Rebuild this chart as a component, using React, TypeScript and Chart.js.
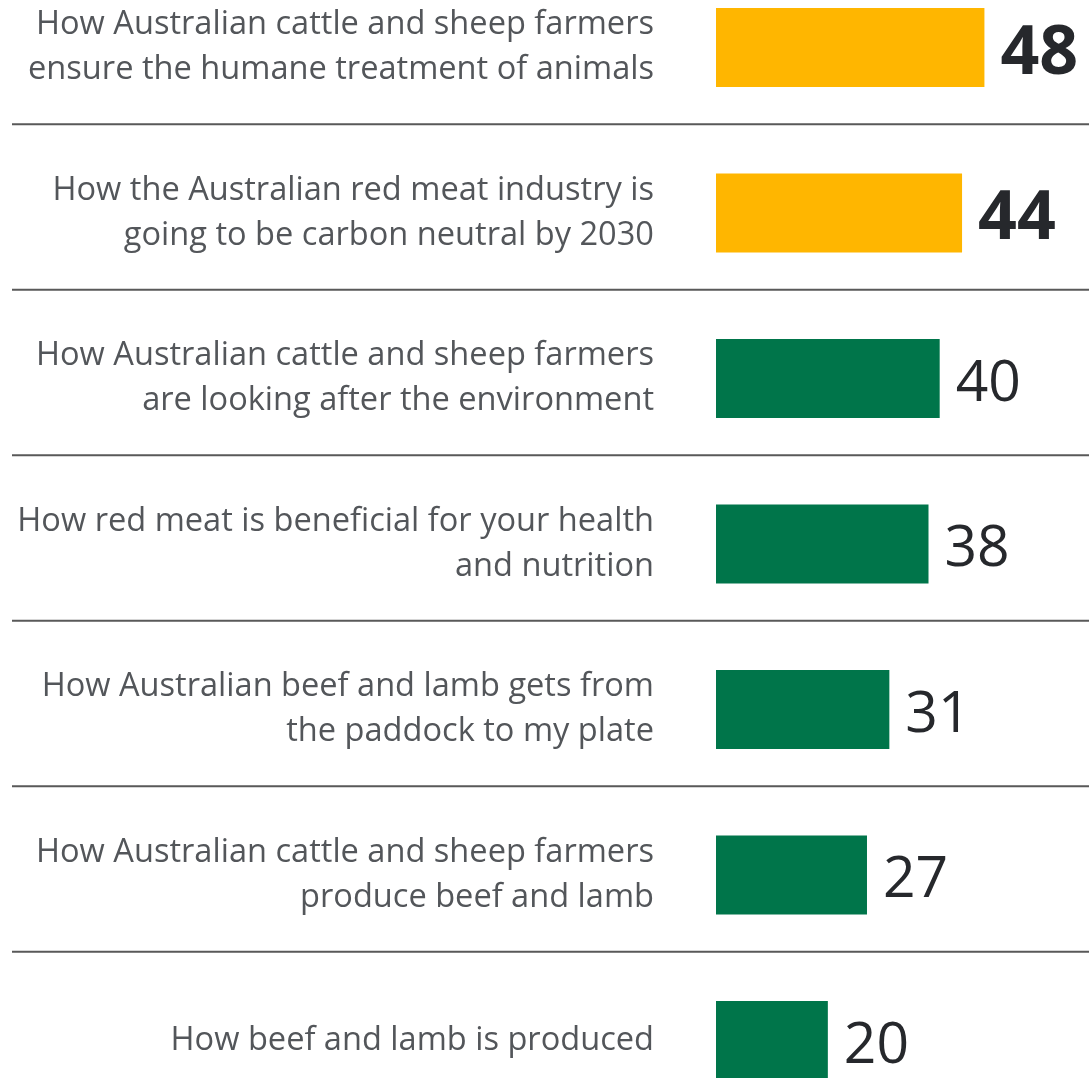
import React, { useEffect, useRef } from "react";
import { Chart, registerables } from "chart.js";

Chart.register(...registerables);

const categories: string[][] = [
  ["How Australian cattle and sheep farmers", "ensure the humane treatment of animals"],
  ["How the Australian red meat industry is", "going to be carbon neutral by 2030"],
  ["How Australian cattle and sheep farmers", "are looking after the environment"],
  ["How red meat is beneficial for your health", "and nutrition"],
  ["How Australian beef and lamb gets from", "the paddock to my plate"],
  ["How Australian cattle and sheep farmers", "produce beef and lamb"],
  ["How beef and lamb is produced"],
];
const values: number[] = [48, 44, 40, 38, 31, 27, 20];
const highlighted: boolean[] = [true, true, false, false, false, false, false];

const YELLOW = "#FFB600";
const GREEN = "#00754A";

const overlayPlugin = {
  id: "overlay",
  afterDatasetsDraw(chart: any) {
    const ctx = chart.ctx;
    const yScale = chart.scales.y;
    const meta = chart.getDatasetMeta(0);
    ctx.save();
    ctx.strokeStyle = "#595959";
    ctx.lineWidth = 2;
    for (let i = 0; i < categories.length - 1; i++) {
      const yy = (yScale.getPixelForValue(i) + yScale.getPixelForValue(i + 1)) / 2 - 6;
      ctx.beginPath();
      ctx.moveTo(12, yy);
      ctx.lineTo(chart.width, yy);
      ctx.stroke();
    }
    meta.data.forEach((bar: any, i: number) => {
      const bold = highlighted[i];
      const size = bold ? 68 : 57;
      ctx.font = `${bold ? "bold " : ""}${size}px "Open Sans"`;
      ctx.fillStyle = "#26282C";
      ctx.textAlign = "left";
      ctx.textBaseline = "alphabetic";
      ctx.fillText(String(values[i]), bar.x + 16, bar.y + size * 0.357 + 2);
    });
    ctx.restore();
  },
};

export default function App() {
  const ref = useRef<HTMLCanvasElement | null>(null);
  useEffect(() => {
    if (!ref.current) return;
    const chart = new Chart(ref.current, {
      type: "bar",
      data: {
        labels: categories,
        datasets: [
          {
            data: values,
            backgroundColor: highlighted.map((h) => (h ? YELLOW : GREEN)),
            borderWidth: 0,
            categoryPercentage: 1,
            barPercentage: 0.4773,
            clip: false as any,
          },
        ],
      },
      options: {
        indexAxis: "y",
        animation: false,
        responsive: true,
        maintainAspectRatio: false,
        layout: { padding: { top: 47.5, bottom: 37.5, left: 0, right: 0 } },
        plugins: { legend: { display: false }, tooltip: { enabled: false } },
        scales: {
          x: { display: false, min: 0, max: 66.7 },
          y: {
            type: "category",
            offset: false,
            grid: { display: false, drawTicks: false },
            border: { display: false },
            ticks: {
              color: "#53565A",
              font: { family: '"Open Sans", sans-serif', size: 32.6, lineHeight: 1.38 },
              padding: 62,
              crossAlign: "near",
              autoSkip: false,
            },
            afterFit: (s: any) => {
              s.width = 716;
              s.paddingTop = 0;
              s.paddingBottom = 0;
            },
          },
        },
      },
      plugins: [overlayPlugin],
    });
    return () => chart.destroy();
  }, []);
  return (
    <div style={{ position: "absolute", left: 0, top: 0, width: 1089, height: 1078 }}>
      <canvas ref={ref} />
    </div>
  );
}
